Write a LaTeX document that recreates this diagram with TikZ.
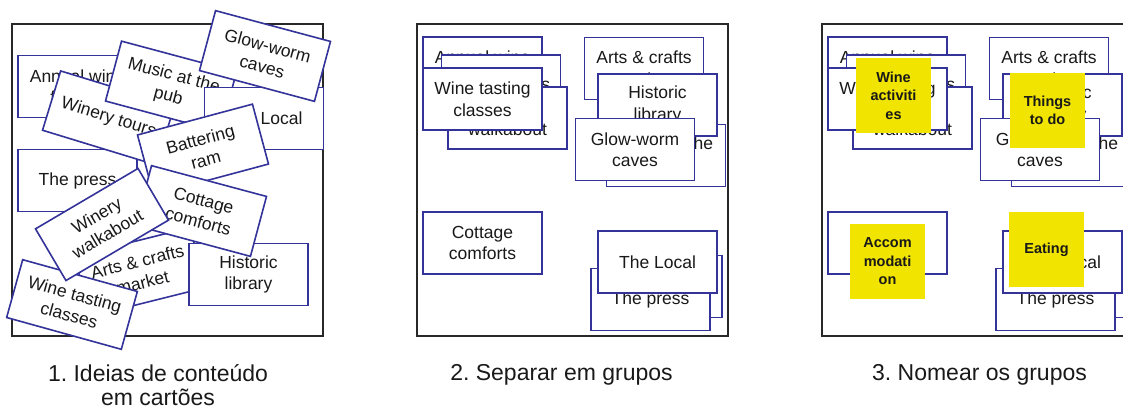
\documentclass[tikz,border=0pt]{standalone}
\usepackage{fontspec}
\setmainfont{Liberation Sans}
\frenchspacing
\definecolor{cardblue}{RGB}{51,51,153}
\definecolor{sticky}{RGB}{240,228,0}
\definecolor{framegray}{RGB}{40,40,40}
\definecolor{inkgray}{RGB}{25,25,25}
\begin{document}
\begin{tikzpicture}[x=1pt,y=-1pt,
  card/.style={draw=cardblue, line width=1.6pt, fill=white, minimum width=119pt, minimum height=62pt,
    inner sep=0pt, align=center, text=inkgray, font=\fontsize{17.5}{21.5}\selectfont},
  note/.style={fill=sticky, minimum width=75pt, minimum height=75pt, inner sep=0pt, align=center,
    text=inkgray, font=\fontsize{14.5}{18.5}\selectfont\bfseries},
  panel/.style={draw=framegray, line width=1.8pt, fill=white, minimum width=311pt, minimum height=312pt, inner sep=0pt},
  caption/.style={font=\fontsize{23}{26}\selectfont, anchor=base, inner sep=0pt, text=inkgray}]
\useasboundingbox (0,0) rectangle (1123,409);
\clip (0,0) rectangle (1123,409);
% frames
\node[panel] (f1) at (167.5,180) {};
\node[panel] (f2) at (572.5,180) {};
\node[panel] (f3) at (977.5,180) {};
% panel 1: scattered cards
\node[card] (a-annual) at (77.5,86.5) {Annual wine\\festival};
\node[card] (a-press) at (77.5,180.5) {The press};
\node[card, rotate=-17] (a-tours) at (108.5,118) {Winery tours};
\node[card, rotate=-15] (a-music) at (171,86.5) {Music at the\\pub};
\node[card] (a-local) at (264,118.5) {The Local};
\node[card, rotate=-15] (a-glow) at (265,56) {Glow-worm\\caves};
\node[card, rotate=15] (a-batter) at (203,149.5) {Battering\\ram};
\node[card, rotate=14] (a-arts) at (140,272) {Arts \& crafts\\market};
\node[card] (a-hist) at (248.5,274.5) {Historic\\library};
\node[card, rotate=-15] (a-cottage) at (201,211) {Cottage\\comforts};
\node[card, rotate=-15.5, minimum height=60pt] (a-tasting) at (72,304.5) {Wine tasting\\classes};
\node[card, rotate=30.5, minimum height=60pt] (a-walk) at (102,224.5) {Winery\\walkabout};
% panels 2 and 3: grouped cards
\foreach \o/\p in {0/b,405/c}{
  \begin{scope}[xshift=\o pt]
    \node[card] (\p-annual) at (482.5,68) {Annual wine\\festival};
    \node[card] (\p-tours) at (501,86) {Winery tours};
    \node[card] (\p-walk) at (507.5,118) {Winery\\walkabout};
    \node[card] (\p-tasting) at (482.5,99) {Wine tasting\\classes};
    \node[card] (\p-arts) at (644,68.5) {Arts \& crafts\\market};
    \node[card] (\p-music) at (666,155.5) {Music at the\\pub};
    \node[card] (\p-hist) at (657.5,105) {Historic\\library};
    \node[card] (\p-glow) at (635,149.5) {Glow-worm\\caves};
    \node[card] (\p-cottage) at (482.5,243) {Cottage\\comforts};
    \node[card] (\p-batter) at (662.5,286.5) {Battering\\ram};
    \node[card] (\p-press) at (650.5,299.5) {The press};
    \node[card] (\p-local) at (657.5,262) {The Local};
  \end{scope}
}
% sticky notes on panel 3
\node[note] (n-wine) at (893.5,95.5) {Wine\\activiti\\es};
\node[note] (n-things) at (1047.5,110.5) {Things\\to do};
\node[note] (n-accom) at (887.5,261.5) {Accom\\modati\\on};
\node[note] (n-eat) at (1046.5,249.5) {Eating};
% captions
\node[caption] (c1a) at (158,381.5) {1. Ideias de conteúdo};
\node[caption] (c1b) at (158,405.5) {em cartões};
\node[caption] (c2) at (561.5,380.5) {2. Separar em grupos};
\node[caption] (c3) at (979.5,380.5) {3. Nomear os grupos};
\end{tikzpicture}
\end{document}
